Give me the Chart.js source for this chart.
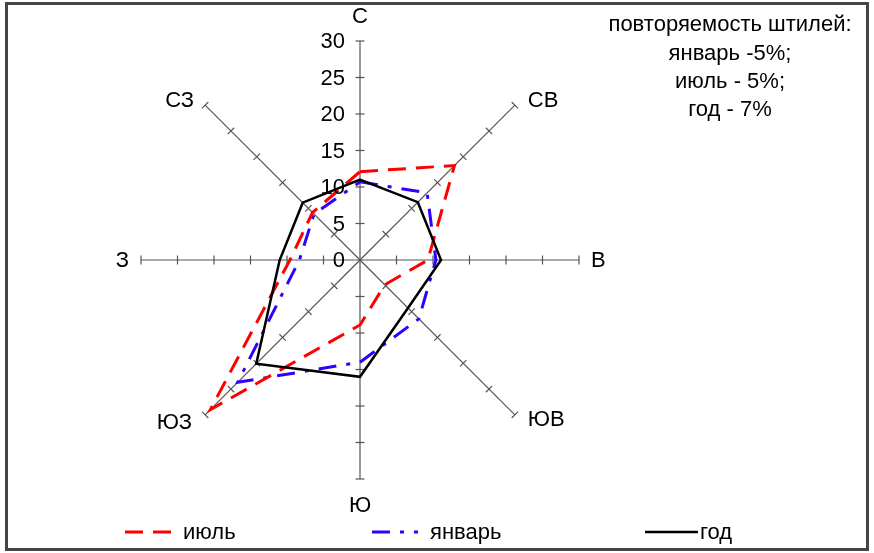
<!DOCTYPE html>
<html><head><meta charset="utf-8">
<script src="https://cdn.jsdelivr.net/npm/chart.js@4.4.1/dist/chart.umd.min.js"></script>
<style>html,body{margin:0;padding:0;background:#fff;}#wrap{width:874px;height:553px;position:relative}</style>
</head><body><div id="wrap"><canvas id="c" width="874" height="553"></canvas></div>
<script>
const directions = ['С','СВ','В','ЮВ','Ю','ЮЗ','З','СЗ'];
const july    = [12.1, 18.3, 9.3, 4.8, 8.9, 29.0, 9.6, 9.2];
const january = [10.7, 13.0, 10.4, 11.4, 14.0, 23.7, 8.3, 8.9];
const year    = [11.0, 11.2, 11.1, 9.3, 16.0, 20.1, 11.0, 11.1];
const tickValues = [0, 5, 10, 15, 20, 25, 30];
const seriesNames = ['июль', 'январь', 'год'];
const noteLines = ['повторяемость штилей:', 'январь -5%;', 'июль - 5%;', 'год - 7%'];

const FONT = '22px "Liberation Sans", Arial, sans-serif';

const decor = {
  id: 'decor',
  beforeDatasetsDraw(chart) {
    const ctx = chart.ctx, s = chart.scales.r;
    ctx.save();
    ctx.strokeStyle = '#555';
    ctx.lineWidth = 1.2;
    for (let i = 0; i < directions.length; i++) {
      const a = s.getIndexAngle(i) - Math.PI / 2;
      const px = -Math.sin(a), py = Math.cos(a);
      for (const v of tickValues) {
        if (v === 0) continue;
        const p = s.getPointPositionForValue(i, v);
        ctx.beginPath();
        ctx.moveTo(p.x - px * 4.5, p.y - py * 4.5);
        ctx.lineTo(p.x + px * 4.5, p.y + py * 4.5);
        ctx.stroke();
      }
    }
    ctx.restore();
  },
  afterDraw(chart) {
    const ctx = chart.ctx, s = chart.scales.r;
    ctx.save();
    ctx.font = FONT;
    ctx.fillStyle = '#000';
    // radial tick labels
    ctx.textAlign = 'right';
    ctx.textBaseline = 'middle';
    for (const v of tickValues) {
      const p = s.getPointPositionForValue(0, v);
      ctx.fillText(String(v), p.x - 15, p.y + 1);
    }
    // direction labels
    const offs = [
      {dx: 0, dy: -24, al: 'center'},
      {dx: 13, dy: -4, al: 'left'},
      {dx: 12, dy: 1, al: 'left'},
      {dx: 13, dy: 5, al: 'left'},
      {dx: 0, dy: 27, al: 'center'},
      {dx: -13, dy: 8, al: 'right'},
      {dx: -12, dy: 1, al: 'right'},
      {dx: -11, dy: -4, al: 'right'}
    ];
    for (let i = 0; i < directions.length; i++) {
      const p = s.getPointPositionForValue(i, 30);
      ctx.textAlign = offs[i].al;
      ctx.fillText(directions[i], p.x + offs[i].dx, p.y + offs[i].dy);
    }
    // note
    ctx.textAlign = 'center';
    const ny = [25, 54, 82, 110];
    noteLines.forEach((t, k) => ctx.fillText(t, 730, ny[k]));
    // legend
    const leg = [[125, 176, 183], [372, 418, 430], [645, 698, 700]];
    const ly = 532;
    chart.data.datasets.forEach((ds, k) => {
      ctx.save();
      ctx.strokeStyle = ds.borderColor;
      ctx.lineWidth = ds.borderWidth;
      ctx.setLineDash(ds.borderDash || []);
      ctx.beginPath();
      ctx.moveTo(leg[k][0], ly);
      ctx.lineTo(leg[k][1], ly);
      ctx.stroke();
      ctx.restore();
      ctx.textAlign = 'left';
      ctx.fillText(ds.label, leg[k][2], ly + 1);
    });
    // frame
    ctx.strokeStyle = '#444';
    ctx.lineWidth = 3;
    ctx.strokeRect(6.5, 3.5, 861, 546);
    ctx.restore();
  }
};

new Chart(document.getElementById('c'), {
  type: 'radar',
  data: {
    labels: directions,
    datasets: [
      {label: seriesNames[0], data: july, borderColor: '#ff0000', borderWidth: 3, borderDash: [18, 10], fill: false, pointRadius: 0, tension: 0, order: 1},
      {label: seriesNames[1], data: january, borderColor: '#3300ff', borderWidth: 3, borderDash: [18, 10, 4, 10], fill: false, pointRadius: 0, tension: 0, order: 2},
      {label: seriesNames[2], data: year, borderColor: '#000000', borderWidth: 2.5, fill: false, pointRadius: 0, tension: 0, order: 0}
    ]
  },
  options: {
    responsive: false,
    animation: false,
    layout: {padding: {left: 141, right: 295, top: 41, bottom: 74}},
    plugins: {legend: {display: false}, tooltip: {enabled: false}},
    scales: {
      r: {
        min: 0, max: 30,
        ticks: {display: false, stepSize: 5},
        grid: {display: false},
        angleLines: {display: true, color: '#555', lineWidth: 1.2},
        pointLabels: {display: false}
      }
    }
  },
  plugins: [decor]
});
</script>
</body></html>
